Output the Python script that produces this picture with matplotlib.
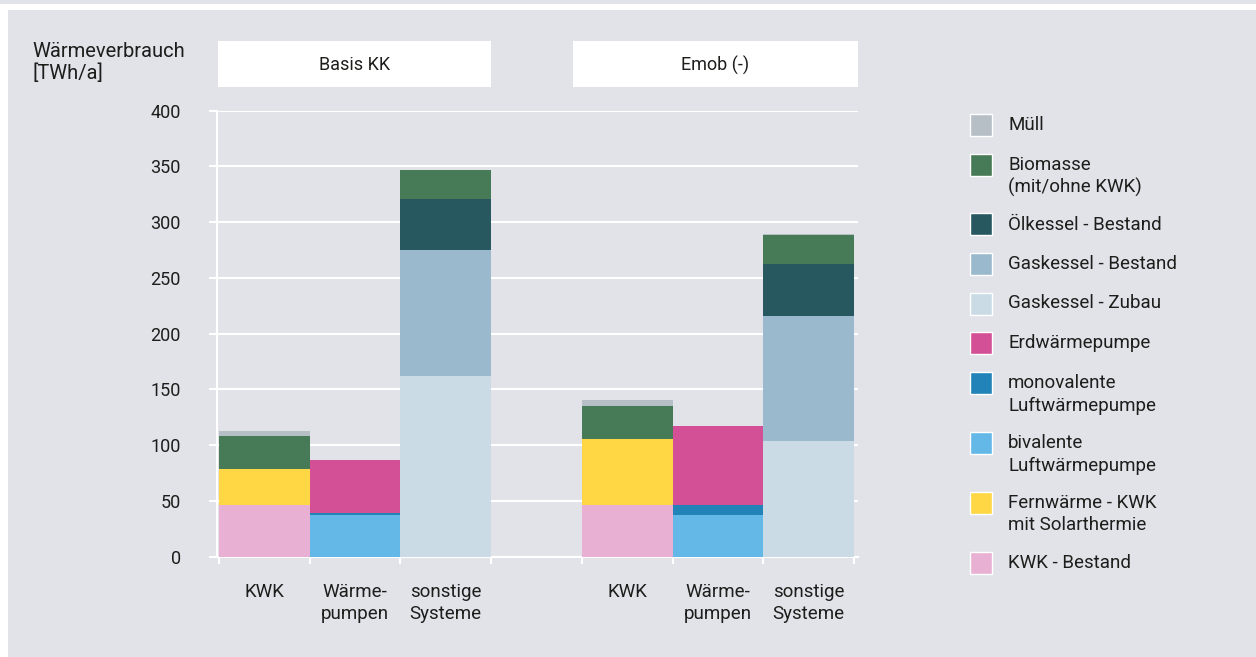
import matplotlib.pyplot as plt
from matplotlib.patches import Rectangle

plt.rcParams['font.family'] = ['Roboto', 'DejaVu Sans']

W, H = 1256, 657
bg = '#e2e3e9'
txt = '#1d1d1b'

# six bars: Basis KK (KWK, WP, sonstige), Emob (-) (KWK, WP, sonstige)
x_pos = [0, 1, 2, 4, 5, 6]
gruppen = ['KWK', 'Wärme-\npumpen', 'sonstige\nSysteme'] * 2
szenarien = ['Basis KK', 'Emob (-)']

# values in TWh/a, bottom -> top
kwk_bestand = [46, 0, 0, 46, 0, 0]
fernwaerme = [33, 0, 0, 60, 0, 0]
bivalent = [0, 37.5, 0, 0, 37.5, 0]
monovalent = [0, 1.5, 0, 0, 8.5, 0]
erdwaerme = [0, 47.5, 0, 0, 71, 0]
gas_zubau = [0, 0, 162, 0, 0, 103.5]
gas_bestand = [0, 0, 113, 0, 0, 112.5]
oel_bestand = [0, 0, 46, 0, 0, 46.5]
biomasse = [29, 0, 26, 29.5, 0, 26]
muell = [5, 0, 0, 5, 0, 0.5]

serien = [
    ('KWK - Bestand', kwk_bestand, '#e8b0d3'),
    ('Fernwärme - KWK\nmit Solarthermie', fernwaerme, '#ffd744'),
    ('bivalente\nLuftwärmepumpe', bivalent, '#63b8e8'),
    ('monovalente\nLuftwärmepumpe', monovalent, '#2283b8'),
    ('Erdwärmepumpe', erdwaerme, '#d35096'),
    ('Gaskessel - Zubau', gas_zubau, '#cadbe5'),
    ('Gaskessel - Bestand', gas_bestand, '#9bb9cc'),
    ('Ölkessel - Bestand', oel_bestand, '#275860'),
    ('Biomasse\n(mit/ohne KWK)', biomasse, '#477a56'),
    ('Müll', muell, '#b6bec6'),
]


def fx(px):
    return px / W


def fy(py):
    return 1 - py / H


fig = plt.figure(figsize=(W / 100, H / 100), dpi=100, facecolor=bg)

# white frame strips at top/left
fig.patches.append(Rectangle((0, 0), fx(8), fy(4), transform=fig.transFigure,
                             facecolor='white', edgecolor='none'))
fig.patches.append(Rectangle((0, fy(10)), 1, fy(4) - fy(10), transform=fig.transFigure,
                             facecolor='white', edgecolor='none'))

ax = fig.add_axes([fx(217), fy(556.7), fx(858) - fx(217), fy(110.7) - fy(556.7)])
ax.set_facecolor(bg)

bottom = [0] * len(x_pos)
for name, vals, col in serien:
    ax.bar(x_pos, vals, width=1.0, bottom=bottom, color=col, linewidth=0, zorder=3)
    bottom = [b + v for b, v in zip(bottom, vals)]

ax.set_xlim(-0.522, 6.545)
ax.set_ylim(0, 400)
ax.set_yticks(range(0, 401, 50))
ax.grid(axis='y', color='white', linewidth=1.5)
ax.set_axisbelow(True)
for s in ['top', 'right']:
    ax.spines[s].set_visible(False)
for s in ['left', 'bottom']:
    ax.spines[s].set_color('white')
    ax.spines[s].set_linewidth(1.5)

ax.tick_params(axis='y', colors='white', labelcolor=txt, length=6, width=1.5,
               pad=20, labelsize=13)
ax.set_xticks(x_pos)
ax.set_xticklabels(gruppen, linespacing=1.3)
ax.tick_params(axis='x', length=0, pad=19, labelsize=13.5, labelcolor=txt)
ax.set_xticks([-0.5, 0.5, 1.5, 2.5, 3.5, 4.5, 5.5, 6.5], minor=True)
ax.tick_params(axis='x', which='minor', colors='white', length=5, width=1.5)

# scenario header boxes
boxes = [(218, 491), (573, 858)]
for (x0, x1), name in zip(boxes, szenarien):
    fig.patches.append(Rectangle((fx(x0), fy(87)), fx(x1) - fx(x0), fy(41) - fy(87),
                                 transform=fig.transFigure, facecolor='white',
                                 edgecolor='none'))
    fig.text(fx((x0 + x1) / 2), fy(65), name, ha='center', va='center',
             fontsize=13, color=txt)

fig.text(fx(32), fy(42), 'Wärmeverbrauch\n[TWh/a]', ha='left', va='top',
         fontsize=14.5, color=txt, linespacing=1.15)

# legend, top entry first
y = 125
for name, vals, col in serien[::-1]:
    fig.patches.append(Rectangle((fx(970), fy(y + 11)), fx(22), fy(0) - fy(22),
                                 transform=fig.transFigure, facecolor=col,
                                 edgecolor='white', linewidth=1))
    lines = name.split('\n')
    for j, line in enumerate(lines):
        fig.text(fx(1008), fy(y + 23 * j), line, ha='left', va='center',
                 fontsize=13.5, color=txt)
    y += 39.5 + 20.5 * (len(lines) - 1)

fig.savefig('out.png', dpi=100, facecolor=bg)
